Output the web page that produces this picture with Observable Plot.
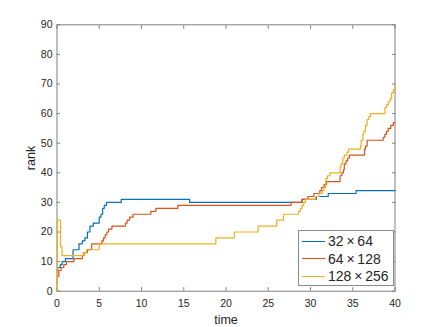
<!DOCTYPE html>
<html><head><meta charset="utf-8">
<script src="https://cdn.jsdelivr.net/npm/d3@7"></script>
<script src="https://cdn.jsdelivr.net/npm/@observablehq/plot@0.6"></script>
<style>
body{margin:0;background:#fff;}
#wrap{position:relative;width:436px;height:327px;font-family:"Liberation Sans",Arial,Helvetica,sans-serif;color:#262626;}
#legend{position:absolute;left:298px;top:230px;width:96px;height:56px;border:1px solid #8a8a8a;background:#fff;box-sizing:border-box;}
.row{position:absolute;left:0;height:16px;display:flex;align-items:center;font-size:14px;}
.sw{display:inline-block;width:23px;height:0;border-top:1.2px solid;margin-left:3px;margin-right:3px;}
</style></head>
<body><div id="wrap"></div>
<script>
const seriesNames = ["32\u2009×\u200964", "64\u2009×\u2009128", "128\u2009×\u2009256"];
const seriesColors = ["#0072BD", "#D95319", "#EDB120"];

const blueTime = [0, 0.1, 0.4, 0.6, 1.0, 1.9, 2.6, 3.0, 3.3, 3.6, 3.9, 4.3, 5.0, 5.2, 5.4, 5.6, 5.85, 7.6, 15.7, 29.0, 30.7, 32.1, 35.4, 40];
const blueRank = [7, 8, 9, 10, 11, 14, 16, 17, 18, 20, 22, 23, 25, 26, 28, 29, 30, 31, 30, 31, 32, 33, 34, 34];

const redTime = [0, 0.05, 0.22, 0.49, 0.8, 1.12, 2.0, 3.0, 3.2, 3.6, 4.1, 5.3, 5.5, 5.7, 5.9, 6.1, 6.5, 8.1, 8.3, 8.6, 9.0, 11.1, 11.7, 14.3, 27.7, 29.0, 29.7, 30.4, 31.1, 31.3, 31.6, 31.9, 33.5, 33.7, 33.9, 34.0, 34.2, 34.4, 34.6, 36.4, 36.5, 36.7, 38.6, 38.8, 39.0, 39.2, 39.5, 39.8, 40];
const redRank = [3, 5, 7, 8, 9, 10, 11, 12, 13, 14, 16, 17, 18, 19, 20, 21, 22, 23, 24, 25, 26, 27, 28, 29, 30, 31, 32, 33, 34, 35, 36, 37, 39, 40, 41, 43, 44, 45, 46, 48, 49, 51, 52, 53, 54, 55, 56, 57, 57];

const yellowTime = [0, 0.05, 0.42, 0.6, 3.1, 3.5, 5.0, 18.8, 21.0, 23.8, 26.0, 26.8, 28.6, 28.8, 29.0, 29.2, 29.4, 30.6, 31.0, 31.4, 31.6, 31.8, 32.0, 32.3, 33.5, 33.6, 33.8, 34.0, 34.3, 34.5, 35.9, 36.0, 36.2, 36.3, 36.5, 36.7, 36.9, 37.1, 38.8, 39.0, 39.2, 39.4, 39.6, 39.8, 40];
const yellowRank = [0, 24, 15, 12, 13, 14, 16, 18, 20, 22, 24, 26, 27, 28, 29, 30, 31, 32, 33, 34, 35, 38, 39, 40, 42, 43, 45, 46, 47, 48, 49, 51, 53, 54, 56, 58, 59, 60, 62, 63, 64, 65, 67, 68, 69];

const xTicks = [0, 5, 10, 15, 20, 25, 30, 35, 40];
const yTicks = [0, 10, 20, 30, 40, 50, 60, 70, 80, 90];
const xLabel = "time";
const yLabel = "rank";

const allTimes = [blueTime, redTime, yellowTime];
const allRanks = [blueRank, redRank, yellowRank];
const data = [];
seriesNames.forEach((s, i) => {
  allTimes[i].forEach((t, j) => data.push({series: s, time: t, rank: allRanks[i][j]}));
});

const tickC = "#808080", textC = "#262626";
const chart = Plot.plot({
  width: 436, height: 327,
  marginLeft: 56.5, marginRight: 41.5, marginTop: 24.3, marginBottom: 36.3,
  style: {fontFamily: '"Liberation Sans", Arial, Helvetica, sans-serif', fontSize: "10.5px", color: textC, background: "#fff"},
  x: {domain: [0, 40]},
  y: {domain: [0, 90]},
  color: {domain: seriesNames, range: seriesColors},
  marks: [
    Plot.frame({stroke: tickC}),
    Plot.axisX({anchor: "bottom", ticks: xTicks, tickSize: -3.5, tickPadding: 12, stroke: tickC, fill: textC, label: null}),
    Plot.axisX({anchor: "bottom", ticks: [], tickSize: 0, fill: textC, fontSize: 12.5, label: xLabel, labelAnchor: "center", labelOffset: 33, labelArrow: "none"}),
    Plot.axisX({anchor: "top", ticks: xTicks, tickSize: -3.5, tickFormat: () => "", stroke: tickC, label: null}),
    Plot.axisY({anchor: "left", ticks: yTicks, tickSize: -3.5, tickPadding: 8, stroke: tickC, fill: textC, label: null}),
    Plot.axisY({anchor: "left", ticks: [], tickSize: 0, fill: textC, fontSize: 12.5, label: yLabel, labelAnchor: "center", labelOffset: 31, labelArrow: "none"}),
    Plot.axisY({anchor: "right", ticks: yTicks, tickSize: -3.5, tickFormat: () => "", stroke: tickC, label: null}),
    Plot.line(data, {x: "time", y: "rank", z: "series", stroke: "series", curve: "step-after", strokeWidth: 1.2})
  ]
});
const wrap = document.getElementById("wrap");
wrap.appendChild(chart);

const legend = document.createElement("div");
legend.id = "legend";
seriesNames.forEach((s, i) => {
  const r = document.createElement("div");
  r.className = "row";
  r.style.top = (2 + i * 17.5) + "px";
  const sw = document.createElement("span");
  sw.className = "sw";
  sw.style.borderTopColor = seriesColors[i];
  r.appendChild(sw);
  r.appendChild(document.createTextNode(s));
  legend.appendChild(r);
});
wrap.appendChild(legend);
</script>
</body></html>
